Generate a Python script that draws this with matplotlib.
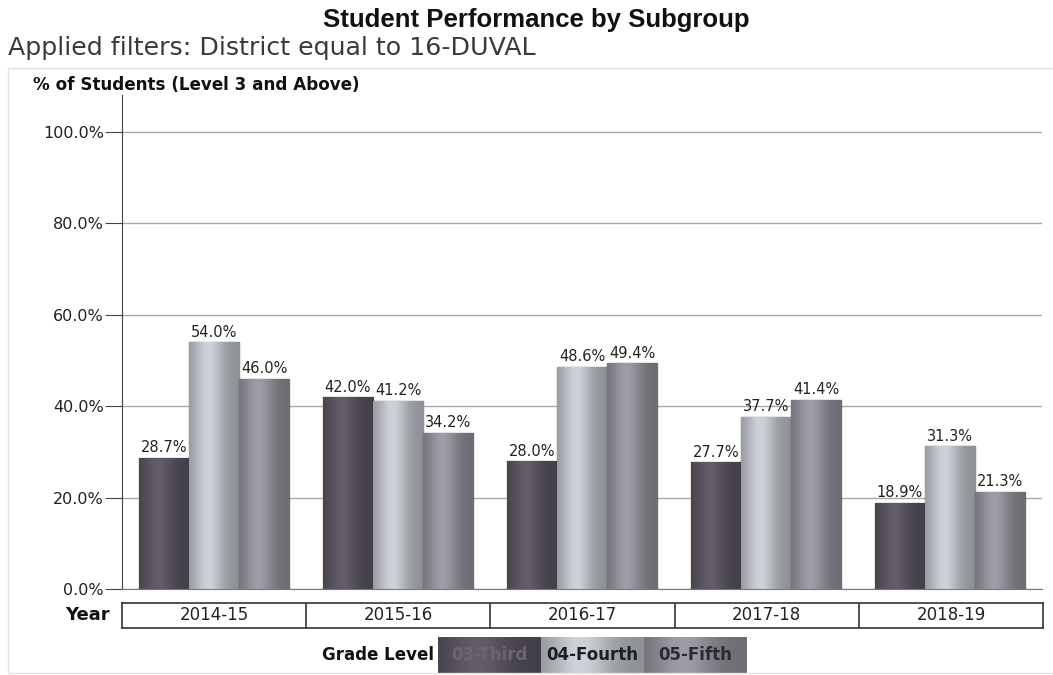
import numpy as np
import matplotlib.pyplot as plt
from matplotlib.patches import Rectangle

# data
years = ['2014-15', '2015-16', '2016-17', '2017-18', '2018-19']
grades = ['03-Third', '04-Fourth', '05-Fifth']
third = [28.7, 42.0, 28.0, 27.7, 18.9]
fourth = [54.0, 41.2, 48.6, 37.7, 31.3]
fifth = [46.0, 34.2, 49.4, 41.4, 21.3]
yticks = [0, 20, 40, 60, 80, 100]

colors = ['#57525d', '#b6bac0', '#8c8b94']


def shaded(base, n=64):
    # cylinder-ish shading across the bar width
    t = np.linspace(0, 1, n)
    f = 0.78 + 0.35 * np.exp(-((t - 0.38) / 0.3) ** 2)
    rgb = np.array(plt.matplotlib.colors.to_rgb(base))
    img = np.clip(rgb[None, :] * f[:, None], 0, 1)
    return img[None, :, :]


fig = plt.figure(figsize=(10.53, 6.75), dpi=100)
W, H = 1053, 675

# faint frame around chart area
fig.patches.append(Rectangle((8 / W, 2 / H), 1.2, 605 / H, transform=fig.transFigure,
                             fill=False, edgecolor='#e2e2e2', linewidth=1))

ax = fig.add_axes([122 / W, (H - 589) / H, 920 / W, (589 - 95) / H])
ax.set_xlim(-0.5, 4.5)
ax.set_ylim(0, 108)

x = np.arange(len(years))
bw = 0.272
series = [third, fourth, fifth]
for k, vals in enumerate(series):
    bars = ax.bar(x + (k - 1) * bw, vals, width=bw, color=colors[k],
                  edgecolor='#2e2e34', linewidth=0.9, zorder=3)
    for b, v in zip(bars, vals):
        im = ax.imshow(shaded(colors[k]), aspect='auto', zorder=3,
                       extent=[b.get_x(), b.get_x() + b.get_width(), 0, v])
        im.set_clip_path(b)
        ax.text(b.get_x() + b.get_width() / 2, v + 0.5, f'{v:.1f}%',
                ha='center', va='bottom', fontsize=10.5, color='#222222', zorder=5)

ax.set_yticks(yticks)
ax.set_yticklabels([f'{t:.1f}%' for t in yticks], fontsize=11.5, color='#222222')
ax.set_xticks([])
ax.grid(axis='y', color='#a8a8a8', linewidth=1, zorder=0)
for s in ['top', 'right']:
    ax.spines[s].set_visible(False)
ax.spines['left'].set_color('#444444')
ax.spines['bottom'].set_color('#777777')
ax.tick_params(axis='y', length=12, color='#444444', pad=1)

# year row under the plot
tab = fig.add_axes([122 / W, (H - 628) / H, 921 / W, 25 / H])
tab.set_xlim(-0.5, 4.5)
tab.set_ylim(0, 1)
tab.set_xticks([])
tab.set_yticks([])
for s in tab.spines.values():
    s.set_color('#333333')
    s.set_linewidth(1.2)
for i, y in enumerate(years):
    tab.text(i, 0.5, y, ha='center', va='center', fontsize=12, color='#222222')
    if i > 0:
        tab.axvline(i - 0.5, color='#333333', linewidth=1.2)
fig.text(110 / W, (H - 615) / H, 'Year', ha='right', va='center',
         fontsize=13, fontweight='bold', color='#111111')

# titles
fig.text(536 / W, (H - 20) / H, 'Student Performance by Subgroup', ha='center',
         va='center', fontsize=18.5, fontweight='bold', family='Liberation Sans', color='#111111')
fig.text(8 / W, (H - 48) / H, 'Applied filters: District equal to 16-DUVAL', ha='left',
         va='center', fontsize=18.2, color='#3a3a3a')
fig.text(33 / W, (H - 85) / H, '% of Students (Level 3 and Above)', ha='left',
         va='center', fontsize=12.1, fontweight='bold', color='#111111')

# legend strip at the bottom
fig.text(434 / W, (H - 655) / H, 'Grade Level', ha='right', va='center',
         fontsize=12, fontweight='bold', color='#111111')
lx = [438, 541, 644]
lw = 103
txtc = ['#6b6472', '#1e1e22', '#2a2a30']
for k, g in enumerate(grades):
    lax = fig.add_axes([lx[k] / W, (H - 673) / H, lw / W, 36 / H])
    lax.imshow(shaded(colors[k]), aspect='auto', extent=[0, 1, 0, 1])
    lax.set_xlim(0, 1)
    lax.set_ylim(0, 1)
    lax.axis('off')
    lax.text(0.5, 0.5, g, ha='center', va='center', fontsize=12, fontweight='bold',
             color=txtc[k])

fig.savefig('out.png', dpi=100)
